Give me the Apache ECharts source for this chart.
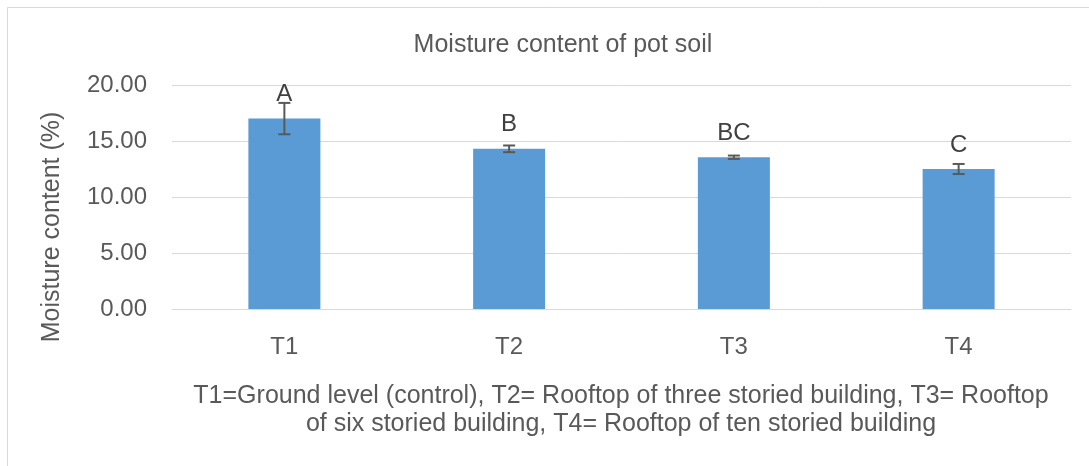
<!DOCTYPE html>
<html>
<head>
<meta charset="utf-8">
<script src="https://cdn.jsdelivr.net/npm/echarts@6/dist/echarts.min.js"></script>
<style>
  html, body { margin: 0; padding: 0; background: #fff; }
  #chart { width: 1089px; height: 466px; }
</style>
</head>
<body>
<div id="chart"></div>
<script>
// data
var categories = ["T1", "T2", "T3", "T4"];
var moisture = [17.0, 14.3, 13.55, 12.5];
var errors = [1.4, 0.3, 0.15, 0.45];
var letters = ["A", "B", "BC", "C"];

var textColor = "#595959";
var font = "'Liberation Sans', Arial, sans-serif";

var chart = echarts.init(document.getElementById("chart"));

var option = {
  animation: false,
  backgroundColor: "#fff",
  textStyle: { fontFamily: font },
  title: {
    text: "Moisture content of pot soil",
    left: 558,
    top: 28,
    textAlign: "center",
    textStyle: { color: textColor, fontSize: 25, fontWeight: "normal", fontFamily: font },
  },
  graphic: [
    {
      type: "rect",
      shape: { x: 7.5, y: 7.5, width: 1100, height: 480 },
      style: { fill: "none", stroke: "#d9d9d9", lineWidth: 1 },
    },
    // y axis title, drawn apart so it sits where the original puts it
    {
      type: "text",
      x: 52,
      y: 227,
      rotation: Math.PI / 2,
      style: {
        text: "Moisture content (%)",
        fill: textColor,
        font: "25px " + font,
        textAlign: "center",
        textVerticalAlign: "middle",
      },
    },
    {
      type: "text",
      x: 621,
      y: 382,
      style: {
        text: "T1=Ground level (control), T2= Rooftop of three storied building, T3= Rooftop\nof six storied building, T4= Rooftop of ten storied building",
        fill: textColor,
        font: "25px " + font,
        textAlign: "center",
        textVerticalAlign: "top",
        lineHeight: 28,
      },
    },
  ],
  grid: { left: 172, right: 18, top: 85, bottom: 157 },
  xAxis: {
    type: "category",
    data: categories,
    axisLine: { lineStyle: { color: "#d9d9d9", width: 1 } },
    axisTick: { show: false },
    axisLabel: { color: textColor, fontSize: 24, margin: 26, fontFamily: font },
  },
  yAxis: {
    type: "value",
    min: 0,
    max: 20,
    interval: 5,
    axisLine: { show: false },
    axisTick: { show: false },
    axisLabel: {
      color: textColor,
      fontSize: 24,
      margin: 25,
      fontFamily: font,
      formatter: function (v) { return v.toFixed(2); },
    },
    splitLine: { lineStyle: { color: "#d9d9d9", width: 1 } },
  },
  series: [
    {
      type: "bar",
      data: moisture,
      barWidth: 72,
      itemStyle: { color: "#5b9bd5" },
      label: {
        show: true,
        position: "top",
        distance: 12,
        color: "#404040",
        fontSize: 24,
        fontFamily: font,
        formatter: function (p) { return letters[p.dataIndex]; },
      },
      z: 2,
    },
    {
      type: "custom",
      data: moisture.map(function (v, i) { return [i, v - errors[i], v + errors[i]]; }),
      renderItem: function (params, api) {
        var lo = api.coord([api.value(0), api.value(1)]);
        var hi = api.coord([api.value(0), api.value(2)]);
        var x = lo[0];
        var w = 6;
        var st = { stroke: "#595959", lineWidth: 2 };
        return {
          type: "group",
          children: [
            { type: "line", shape: { x1: x, y1: lo[1], x2: x, y2: hi[1] }, style: st },
            { type: "line", shape: { x1: x - w, y1: lo[1], x2: x + w, y2: lo[1] }, style: st },
            { type: "line", shape: { x1: x - w, y1: hi[1], x2: x + w, y2: hi[1] }, style: st },
          ],
        };
      },
      z: 3,
    },
  ],
};

chart.setOption(option);
</script>
</body>
</html>
